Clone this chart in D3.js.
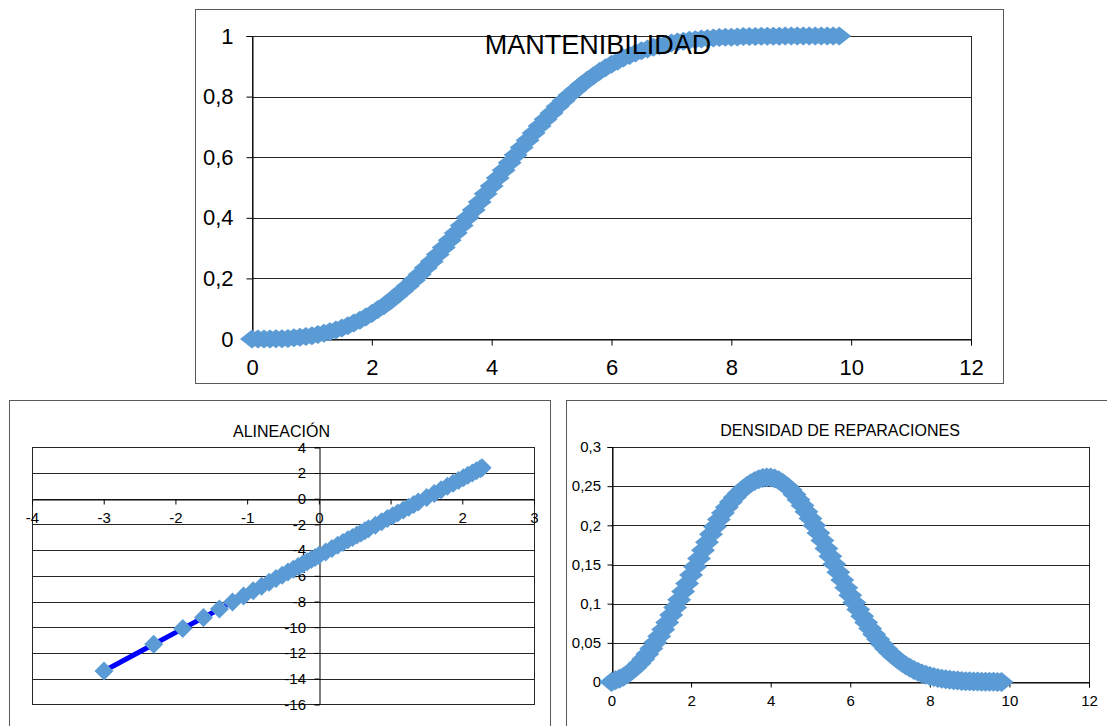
<!DOCTYPE html>
<html>
<head>
<meta charset="utf-8">
<script src="https://cdn.jsdelivr.net/npm/d3@7"></script>
<style>
    body { margin: 0; background: #ffffff; }
    svg text { font-family: "Liberation Sans", Arial, sans-serif; fill: #000000; }
</style>
</head>
<body>
<div id="canvas"></div>
<script>
"use strict"

/*Size of the canvas*/
let svgWidth = 1107;
let svgHeight = 726;

/*Time values (hours) shared by the maintainability and density curves*/
let tiempos = [
    0, 0.1, 0.2, 0.3, 0.4, 0.5, 0.6, 0.7, 0.8, 0.9,
    1, 1.1, 1.2, 1.3, 1.4, 1.5, 1.6, 1.7, 1.8, 1.9,
    2, 2.1, 2.2, 2.3, 2.4, 2.5, 2.6, 2.7, 2.8, 2.9,
    3, 3.1, 3.2, 3.3, 3.4, 3.5, 3.6, 3.7, 3.8, 3.9,
    4, 4.1, 4.2, 4.3, 4.4, 4.5, 4.6, 4.7, 4.8, 4.9,
    5, 5.1, 5.2, 5.3, 5.4, 5.5, 5.6, 5.7, 5.8, 5.9,
    6, 6.1, 6.2, 6.3, 6.4, 6.5, 6.6, 6.7, 6.8, 6.9,
    7, 7.1, 7.2, 7.3, 7.4, 7.5, 7.6, 7.7, 7.8, 7.9,
    8, 8.1, 8.2, 8.3, 8.4, 8.5, 8.6, 8.7, 8.8, 8.9,
    9, 9.1, 9.2, 9.3, 9.4, 9.5, 9.6, 9.7, 9.8
];

/*MANTENIBILIDAD values*/
let mantenibilidad = [
    0, 0, 0, 0, 0.001, 0.001, 0.002, 0.004, 0.006, 0.008,
    0.011, 0.015, 0.019, 0.024, 0.030, 0.036, 0.044, 0.053, 0.062, 0.073,
    0.084, 0.097, 0.110, 0.125, 0.141, 0.158, 0.175, 0.194, 0.214, 0.235,
    0.256, 0.279, 0.302, 0.326, 0.350, 0.375, 0.401, 0.426, 0.452, 0.479,
    0.505, 0.531, 0.557, 0.582, 0.607, 0.632, 0.656, 0.680, 0.703, 0.725,
    0.746, 0.767, 0.786, 0.805, 0.822, 0.839, 0.855, 0.869, 0.883, 0.895,
    0.907, 0.917, 0.927, 0.936, 0.944, 0.951, 0.957, 0.963, 0.968, 0.973,
    0.977, 0.980, 0.983, 0.986, 0.988, 0.990, 0.992, 0.993, 0.995, 0.996,
    0.996, 0.997, 0.998, 0.998, 0.998, 0.999, 0.999, 0.999, 0.999, 1,
    1, 1, 1, 1, 1, 1, 1, 1, 1
];

/*DENSIDAD DE REPARACIONES values*/
let densidad = [
    0, 0.0021, 0.0040, 0.0067, 0.0100, 0.0139, 0.0185, 0.0237, 0.0295, 0.0359,
    0.0429, 0.0504, 0.0584, 0.0670, 0.0760, 0.0854, 0.0951, 0.1051, 0.1154, 0.1259,
    0.1365, 0.1471, 0.1577, 0.1681, 0.1784, 0.1885, 0.1982, 0.2074, 0.2156, 0.2231,
    0.2299, 0.2360, 0.2414, 0.2462, 0.2503, 0.2537, 0.2565, 0.2587, 0.2603, 0.2612,
    0.2610, 0.2598, 0.2576, 0.2544, 0.2503, 0.2453, 0.2394, 0.2327, 0.2254, 0.2174,
    0.2088, 0.1997, 0.1902, 0.1805, 0.1705, 0.1604, 0.1503, 0.1401, 0.1301, 0.1203,
    0.1108, 0.1015, 0.0926, 0.0840, 0.0759, 0.0683, 0.0611, 0.0545, 0.0483, 0.0426,
    0.0374, 0.0327, 0.0284, 0.0246, 0.0211, 0.0181, 0.0154, 0.0130, 0.0110, 0.0092,
    0.0076, 0.0063, 0.0052, 0.0043, 0.0035, 0.0028, 0.0022, 0.0018, 0.0014, 0.0011,
    0.0008, 0.0006, 0.0005, 0.0004, 0.0003, 0.0002, 0.0002, 0.0001, 0.0001
];

/*ALINEACIÓN points (x and y)*/
let alineacionX = [
    -2.996, -2.303, -1.897, -1.609, -1.386, -1.204, -1.050, -0.916, -0.799, -0.693,
    -0.598, -0.511, -0.431, -0.357, -0.288, -0.223, -0.163, -0.105, -0.051, 0,
    0.095, 0.182, 0.262, 0.336, 0.405, 0.470, 0.531, 0.588, 0.642, 0.693,
    0.788, 0.875, 0.956, 1.030, 1.099, 1.179, 1.253, 1.322, 1.386, 1.504,
    1.609, 1.705, 1.792, 1.872, 1.946, 2.015, 2.079, 2.140, 2.197, 2.251, 2.277
];
let alineacionY = [
    -13.41, -11.33, -10.11, -9.25, -8.58, -8.03, -7.57, -7.17, -6.82, -6.50,
    -6.21, -5.95, -5.71, -5.49, -5.28, -5.09, -4.91, -4.74, -4.57, -4.42,
    -4.14, -3.87, -3.63, -3.41, -3.20, -3.01, -2.83, -2.66, -2.49, -2.34,
    -2.06, -1.80, -1.55, -1.33, -1.12, -0.88, -0.66, -0.45, -0.26, 0.09,
    0.41, 0.70, 0.96, 1.20, 1.42, 1.63, 1.82, 2.00, 2.17, 2.33, 2.41
];

/*Tick values of every axis*/
let mantTicksX = [0, 2, 4, 6, 8, 10, 12];
let mantTicksY = [0, 0.2, 0.4, 0.6, 0.8, 1];
let alinTicksX = [-4, -3, -2, -1, 0, 1, 2, 3];
let alinTicksY = [-16, -14, -12, -10, -8, -6, -4, -2, 0, 2, 4];
let densTicksX = [0, 2, 4, 6, 8, 10, 12];
let densTicksY = [0, 0.05, 0.1, 0.15, 0.2, 0.25, 0.3];

let markerColor = "#5B9BD5";
let alinLineColor = "#0000FF";
let gridColor = "#262626";
let panelColor = "#5a5a5a";

let svg = d3.select("#canvas")
    .append("svg")
    .attr("width", svgWidth)
    .attr("height", svgHeight);

/*Decimal comma like the original*/
function coma(d) {
    return String(d).replace(".", ",");
}

/*Excel style diamond marker (half width a, half height b)*/
function diamante(a, b) {
    return "M0," + (-b) + "L" + a + ",0L0," + b + "L" + (-a) + ",0Z";
}

/*Draws one chart panel*/
function drawChart(c) {
    let g = svg.append("g");

    /*outer box of the panel*/
    g.append("rect")
        .attr("x", c.box[0] + 0.5)
        .attr("y", c.box[1] + 0.5)
        .attr("width", c.box[2])
        .attr("height", c.box[3])
        .attr("fill", "#ffffff")
        .attr("stroke", panelColor);

    let x0 = c.x.range()[0], x1 = c.x.range()[1];
    let yb = c.y.range()[0], yt = c.y.range()[1];

    /*horizontal gridlines*/
    g.selectAll(".grid")
        .data(c.yTicks)
        .join("line")
        .attr("x1", x0)
        .attr("x2", x1)
        .attr("y1", function (d) { return Math.round(c.y(d)) + 0.5; })
        .attr("y2", function (d) { return Math.round(c.y(d)) + 0.5; })
        .attr("stroke", gridColor);

    /*plot area frame*/
    g.append("rect")
        .attr("x", Math.round(x0) + 0.5)
        .attr("y", Math.round(yt) + 0.5)
        .attr("width", Math.round(x1) - Math.round(x0))
        .attr("height", Math.round(yb) - Math.round(yt))
        .attr("fill", "none")
        .attr("stroke", gridColor);

    /*x axis*/
    let xAxis = g.append("g")
        .attr("transform", "translate(0," + (Math.round(c.y(c.xAxisAt)) + 0.5) + ")")
        .call(d3.axisBottom(c.x)
            .tickValues(c.xTicks)
            .tickFormat(coma)
            .tickSizeOuter(0)
            .tickSize(c.tickLen)
            .tickPadding(c.xPad));
    xAxis.attr("font-size", c.fontSize);
    xAxis.selectAll("line, path").attr("stroke", "#000000");

    /*y axis*/
    let yAxis = g.append("g")
        .attr("transform", "translate(" + (Math.round(c.x(c.yAxisAt)) + 0.5) + ",0)")
        .call(d3.axisLeft(c.y)
            .tickValues(c.yTicks)
            .tickFormat(coma)
            .tickSizeOuter(0)
            .tickSize(c.tickLen)
            .tickPadding(c.yPad));
    yAxis.attr("font-size", c.fontSize);
    yAxis.selectAll("line, path").attr("stroke", "#000000");

    let puntos = c.xs.map(function (v, i) { return [v, c.ys[i]]; });

    /*connecting line*/
    if (c.lineColor) {
        g.append("path")
            .datum(puntos)
            .attr("fill", "none")
            .attr("stroke", c.lineColor)
            .attr("stroke-width", c.lineWidth)
            .attr("d", d3.line()
                .x(function (d) { return c.x(d[0]); })
                .y(function (d) { return c.y(d[1]); }));
    }

    /*diamond markers*/
    g.selectAll(".marker")
        .data(puntos)
        .join("path")
        .attr("transform", function (d) {
            return "translate(" + c.x(d[0]) + "," + c.y(d[1]) + ")";
        })
        .attr("d", diamante(c.markerW, c.markerH))
        .attr("fill", markerColor);

    /*title*/
    g.append("text")
        .attr("x", c.titleX)
        .attr("y", c.titleY)
        .attr("text-anchor", "middle")
        .style("font-size", c.titleSize + "px")
        .text(c.title);
}

/*MANTENIBILIDAD*/
drawChart({
    box: [195, 9, 808, 374],
    x: d3.scaleLinear().domain([0, 12]).range([252, 971]),
    y: d3.scaleLinear().domain([0, 1]).range([339, 36]),
    xTicks: mantTicksX,
    yTicks: mantTicksY,
    xAxisAt: 0,
    yAxisAt: 0,
    tickLen: 6,
    xPad: 14,
    yPad: 13,
    fontSize: 22,
    xs: tiempos,
    ys: mantenibilidad,
    markerW: 12,
    markerH: 9.5,
    title: "MANTENIBILIDAD",
    titleX: 598,
    titleY: 54,
    titleSize: 27
});

/*ALINEACIÓN*/
drawChart({
    box: [9, 400, 541, 340],
    x: d3.scaleLinear().domain([-4, 3]).range([32, 534]),
    y: d3.scaleLinear().domain([-16, 4]).range([704.3, 447.3]),
    xTicks: alinTicksX,
    yTicks: alinTicksY,
    xAxisAt: 0,
    yAxisAt: 0,
    tickLen: 5,
    xPad: 7.5,
    yPad: 8.5,
    fontSize: 15,
    xs: alineacionX,
    ys: alineacionY,
    lineColor: alinLineColor,
    lineWidth: 5,
    markerW: 9.5,
    markerH: 9.5,
    title: "ALINEACIÓN",
    titleX: 281.5,
    titleY: 437,
    titleSize: 16
});

/*DENSIDAD DE REPARACIONES*/
drawChart({
    box: [566, 400, 560, 340],
    x: d3.scaleLinear().domain([0, 12]).range([611.5, 1089]),
    y: d3.scaleLinear().domain([0, 0.3]).range([682, 447]),
    xTicks: densTicksX,
    yTicks: densTicksY,
    xAxisAt: 0,
    yAxisAt: 0,
    tickLen: 5,
    xPad: 8.3,
    yPad: 6.5,
    fontSize: 15,
    xs: tiempos,
    ys: densidad,
    markerW: 12,
    markerH: 10,
    title: "DENSIDAD DE REPARACIONES",
    titleX: 840,
    titleY: 436,
    titleSize: 16
});
</script>
</body>
</html>
